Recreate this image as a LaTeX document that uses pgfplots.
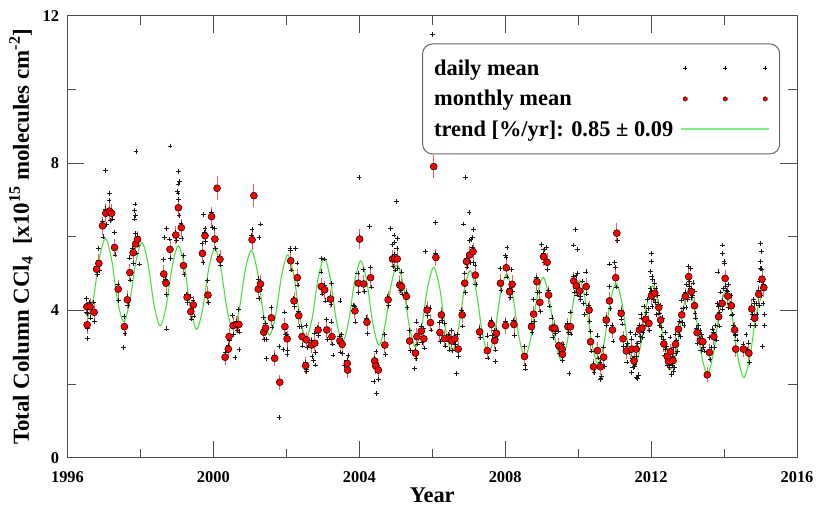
\documentclass[border=0pt]{standalone}
\usepackage{fontspec}
\setmainfont{Liberation Serif}
\usepackage{pgfplots}
\pgfplotsset{compat=1.18}
\definecolor{trendgreen}{RGB}{70,225,60}
\definecolor{legendgreen}{RGB}{125,238,125}
\definecolor{errred}{RGB}{255,90,90}
\begin{document}
\begin{tikzpicture}
\begin{axis}[
 scale only axis, width=729.5bp, height=441.7bp,
 xmin=1996, xmax=2016, ymin=0, ymax=12,
 xtick={1996,2000,2004,2008,2012,2016}, ytick={0,4,8,12},
 minor x tick num=1, minor y tick num=1,
 tick align=inside, tick pos=both,
 major tick length=17bp, minor tick length=9bp,
 tick style={black!70, line width=1bp},
 axis line style={black!70, line width=1bp},
 /pgf/number format/assume math mode=true,
 /pgf/number format/1000 sep={},
 ticklabel style={font=\fontsize{16.5}{18}\selectfont\bfseries},
 xticklabel style={yshift=-10bp},
 yticklabel style={xshift=-5bp},
 xlabel={Year},
 ylabel={Total Column CCl\textsubscript{4}\ \ [x10\textsuperscript{15} molecules cm\textsuperscript{-2}]},
 label style={font=\fontsize{22.5}{26}\selectfont\bfseries},
 xlabel style={at={(axis description cs:0.5,-0.085)}, anchor=center, inner sep=0bp},
 ylabel style={at={(axis description cs:-0.0637,0.5)}, anchor=center, inner sep=0bp, font=\fontsize{23}{26}\selectfont\bfseries},
 legend plot pos=right, legend cell align=left,
 legend style={at={(0.977,0.938)}, anchor=north east,
   font=\fontsize{22.5}{26}\selectfont\bfseries,
   draw=black!60, rounded corners=10bp, line width=1bp,
   inner xsep=9.5bp, inner ysep=14bp, row sep=9.5bp},
]
% daily means
\addplot[only marks, mark=+, mark size=2.4bp, mark options={black!90, line width=0.6bp},
 legend image code/.code={\path[draw=none, fill=none] (0bp,0bp) -- (88bp,0bp);
   \draw[black, line width=0.5bp, solid] (2bp,0bp) -- (6bp,0bp) (4bp,-2bp) -- (4bp,2bp)
     (42bp,0bp) -- (46bp,0bp) (44bp,-2bp) -- (44bp,2bp)
     (82bp,0bp) -- (86bp,0bp) (84bp,-2bp) -- (84bp,2bp);}]
coordinates {
(1996.52,4.32)(1996.545,3.92)(1996.53,3.96)(1996.555,3.51)(1996.61,4.22)(1996.635,3.80)(1996.72,4.23)(1996.745,3.70)(1996.79,5.20)(1996.815,4.97)(1996.85,5.68)(1996.875,5.08)(1996.95,6.42)(1996.975,6.00)(1997.04,6.76)(1997.065,6.34)(1997.14,6.98)(1997.165,6.45)(1997.20,6.72)(1997.225,6.49)(1997.28,6.11)(1997.305,5.51)(1997.38,4.70)(1997.405,4.28)(1997.55,3.84)(1997.575,3.38)(1997.63,4.37)(1997.655,4.14)(1997.70,5.43)(1997.725,4.83)(1997.79,5.69)(1997.815,5.27)(1997.86,6.09)(1997.885,5.56)(1997.91,6.01)(1997.935,5.78)
(1998.63,5.39)(1998.655,4.79)(1998.69,4.86)(1998.715,4.44)(1998.80,5.94)(1998.825,5.41)(1998.96,6.13)(1998.985,5.90)(1999.03,7.19)(1999.055,6.59)(1999.11,6.37)(1999.135,5.95)(1999.17,5.50)(1999.195,4.97)(1999.27,4.44)(1999.295,4.21)(1999.37,4.37)(1999.395,3.77)(1999.44,4.27)(1999.465,3.85)(1999.69,5.83)(1999.715,5.30)(1999.76,6.11)(1999.785,5.88)(1999.84,4.82)(1999.865,4.22)(1999.94,6.67)(1999.965,6.25)(2000.03,6.22)(2000.055,5.69)(2000.17,5.47)(2000.195,5.24)(2000.33,2.85)(2000.40,3.05)(2000.44,3.20)(2000.53,3.87)(2000.555,3.34)(2000.63,3.70)(2000.655,3.47)(2000.69,4.02)(2000.715,3.42)
(2001.05,6.04)(2001.22,4.86)(2001.245,4.33)(2001.28,4.80)(2001.305,4.57)(2001.37,3.81)(2001.395,3.21)(2001.42,3.64)(2001.445,3.22)(2001.58,4.08)(2001.605,3.55)(2001.67,2.78)(2001.95,3.96)(2001.975,3.36)(2002.01,3.35)(2002.035,2.93)(2002.11,5.63)(2002.135,5.10)(2002.20,4.34)(2002.225,4.11)(2002.29,5.29)(2002.315,4.69)(2002.33,3.98)(2002.355,3.56)(2002.42,3.57)(2002.445,3.04)(2002.52,2.58)(2002.545,2.35)(2002.54,3.60)(2002.565,3.00)(2002.68,3.18)(2002.705,2.76)(2002.77,3.39)(2002.795,2.86)(2002.86,3.55)(2002.885,3.32)(2002.95,5.05)(2002.975,4.45)
(2003.04,4.68)(2003.065,4.26)(2003.10,3.75)(2003.125,3.22)(2003.20,4.39)(2003.225,4.16)(2003.24,3.69)(2003.265,3.09)(2003.46,3.29)(2003.485,2.87)(2003.52,3.36)(2003.545,2.83)(2003.66,2.64)(2003.685,2.41)(2003.69,2.78)(2003.87,4.11)(2003.895,3.69)(2003.96,5.02)(2003.985,4.49)(2004.00,6.02)(2004.11,5.12)(2004.135,4.52)(2004.20,3.80)(2004.225,3.38)(2004.30,5.17)(2004.325,4.64)(2004.41,2.71)(2004.435,2.48)(2004.46,2.89)(2004.51,2.50)(2004.69,3.34)(2004.715,2.81)(2004.78,4.37)(2004.805,4.14)(2004.90,5.80)(2004.925,5.20)(2004.96,5.52)(2004.985,5.10)
(2005.03,5.68)(2005.055,5.15)(2005.10,4.77)(2005.125,4.54)(2005.15,5.05)(2005.175,4.45)(2005.28,4.50)(2005.305,4.08)(2005.37,3.45)(2005.395,2.92)(2005.53,2.92)(2005.555,2.69)(2005.57,3.69)(2005.595,3.09)(2005.69,3.56)(2005.715,3.14)(2005.76,3.51)(2005.785,2.98)(2005.85,4.09)(2005.875,3.86)(2005.94,4.07)(2005.965,3.47)(2006.09,5.56)(2006.20,3.68)(2006.225,3.15)(2006.24,3.96)(2006.265,3.73)(2006.33,3.64)(2006.355,3.04)(2006.45,3.35)(2006.475,2.93)(2006.53,3.45)(2006.555,2.92)(2006.61,3.31)(2006.635,3.08)(2006.70,3.35)(2006.725,2.75)(2006.81,4.00)(2006.835,3.58)(2006.88,5.02)(2006.905,4.49)(2006.93,5.41)(2006.955,5.18)
(2007.02,5.91)(2007.045,5.31)(2007.11,5.72)(2007.135,5.30)(2007.17,5.24)(2007.195,4.71)(2007.29,3.50)(2007.315,3.27)(2007.50,3.31)(2007.525,2.71)(2007.61,3.74)(2007.635,3.32)(2007.70,3.46)(2007.725,2.93)(2007.75,3.46)(2007.775,3.23)(2007.86,5.14)(2007.885,4.54)(2008.00,3.71)(2008.02,5.44)(2008.045,4.91)(2008.11,4.59)(2008.135,4.36)(2008.18,5.11)(2008.205,4.51)(2008.23,3.74)(2008.255,3.32)(2008.52,3.03)(2008.545,2.50)(2008.71,3.64)(2008.735,3.41)(2008.77,4.30)(2008.795,3.70)(2008.86,4.90)(2008.885,4.48)(2008.94,4.50)(2008.965,3.97)
(2009.04,5.54)(2009.065,5.31)(2009.14,5.71)(2009.165,5.11)(2009.18,4.54)(2009.205,4.12)(2009.28,3.80)(2009.305,3.27)(2009.35,3.60)(2009.375,3.37)(2009.46,3.44)(2009.485,2.84)(2009.55,3.07)(2009.575,2.65)(2009.58,3.09)(2009.71,3.64)(2009.735,3.41)(2009.78,3.96)(2009.805,3.36)(2009.87,4.92)(2009.895,4.50)(2009.94,4.95)(2009.965,4.42)(2010.03,4.61)(2010.055,4.38)(2010.21,5.05)(2010.235,4.45)(2010.29,4.13)(2010.315,3.71)(2010.33,3.43)(2010.355,2.90)(2010.41,2.55)(2010.435,2.32)(2010.52,3.31)(2010.545,2.71)(2010.60,2.59)(2010.625,2.17)(2010.69,3.01)(2010.715,2.48)(2010.76,3.82)(2010.785,3.59)(2010.85,4.66)(2010.875,4.06)(2010.93,3.59)(2010.955,3.17)
(2011.02,5.17)(2011.045,4.64)(2011.07,5.90)(2011.17,4.00)(2011.195,3.77)(2011.22,3.63)(2011.245,3.03)(2011.31,3.02)(2011.335,2.60)(2011.46,3.23)(2011.485,2.70)(2011.52,2.71)(2011.545,2.48)(2011.58,3.35)(2011.605,2.75)(2011.67,3.59)(2011.695,3.17)(2011.74,3.80)(2011.765,3.27)(2011.84,3.84)(2011.865,3.61)(2011.93,4.05)(2011.955,3.45)
(2012.00,4.52)(2012.025,4.10)(2012.09,4.75)(2012.115,4.22)(2012.20,4.16)(2012.225,3.93)(2012.25,4.14)(2012.275,3.54)(2012.34,3.21)(2012.365,2.79)(2012.43,3.03)(2012.455,2.50)(2012.47,2.69)(2012.495,2.46)(2012.52,3.28)(2012.545,2.68)(2012.59,2.76)(2012.615,2.34)(2012.66,3.36)(2012.685,2.83)(2012.74,3.57)(2012.765,3.34)(2012.83,4.28)(2012.855,3.68)(2012.93,4.50)(2012.955,4.08)
(2013.02,5.20)(2013.045,4.67)(2013.09,4.59)(2013.115,4.36)(2013.18,4.53)(2013.205,3.93)(2013.25,3.52)(2013.275,3.10)(2013.34,3.45)(2013.365,2.92)(2013.41,3.23)(2013.435,3.00)(2013.59,3.26)(2013.615,2.66)(2013.71,3.41)(2013.735,2.99)(2013.84,4.11)(2013.865,3.58)(2013.94,4.27)(2013.965,4.04)
(2014.02,5.27)(2014.045,4.67)(2014.09,4.51)(2014.115,4.09)(2014.19,4.41)(2014.215,3.88)(2014.28,3.55)(2014.305,3.32)(2014.31,3.35)(2014.52,3.07)(2014.67,3.12)(2014.695,2.59)(2014.75,4.12)(2014.775,3.89)(2014.83,4.19)(2014.855,3.59)(2014.94,4.56)(2014.965,4.14)(2015.03,5.13)(2015.055,4.60)(2015.08,4.70)(2015.105,3.90)
(1997.05,7.81)(1997.15,7.18)(1997.88,8.32)(1997.85,6.89)(1997.84,6.71)(1997.83,6.49)(1997.87,6.58)(1997.97,5.26)(1998.81,8.47)(1999.05,7.77)(1999.07,7.50)(1999.03,7.44)(1999.02,7.23)(1999.04,7.02)(1998.72,6.23)(1998.65,5.99)(1999.72,6.60)(1999.77,6.23)(2001.06,6.21)(2001.29,6.35)(2001.25,5.99)(2002.10,5.69)(2002.25,5.69)(2003.99,7.62)(2004.27,6.28)(2004.86,6.23)(2004.95,6.05)(2005.04,5.96)(2005.02,6.96)(2004.97,5.84)(2006.00,11.5)(2006.91,7.61)(2007.01,6.67)(2006.86,6.35)(2007.12,6.21)(2007.06,5.93)(2007.10,5.99)(2005.82,5.60)(2006.09,6.39)(2008.05,5.72)(2008.00,5.50)(2009.93,6.21)(2009.88,5.78)(2009.99,5.66)(2008.99,5.80)(2009.06,5.66)(2011.00,5.31)(2010.86,5.26)(2012.00,5.55)(2012.01,5.33)(2011.99,5.06)(2012.02,4.92)(2013.95,5.78)(2013.96,5.55)(2014.00,5.33)(2013.83,5.05)(2013.07,5.15)(2015.00,5.83)(2015.02,5.60)(2015.00,5.33)(2014.99,5.15)(2015.06,3.02)
(1996.55,3.24)(1997.53,3.00)(1998.72,3.50)(2000.59,2.73)(2000.70,2.95)(2001.80,1.10)(2001.46,2.70)(2001.80,3.02)(2001.91,2.95)(2002.02,2.81)(2004.47,1.75)(2004.40,2.07)(2004.53,2.13)(2002.55,2.40)(2002.75,2.65)(2002.80,2.52)(2003.28,2.79)(2003.60,2.50)(2005.52,2.43)(2006.66,2.29)(2007.73,2.61)(2008.55,2.41)(2009.75,2.29)(2010.62,2.13)(2010.63,2.22)(2011.59,2.18)(2011.47,2.31)(2012.55,2.27)(2011.62,2.15)(2011.65,2.25)
(2002.96,5.42)(2003.05,5.40)(2003.24,4.74)(2003.47,4.26)(2003.83,4.15)(2009.98,5.00)(2010.07,4.30)(2010.12,4.80)(2010.15,4.20)(2010.18,3.90)
(2011.35,3.10)(2011.40,2.85)(2011.44,3.40)(2011.50,2.45)(2011.56,2.55)(2011.62,3.10)(2011.70,3.30)(2011.72,3.90)(2011.78,3.40)(2011.80,4.10)(2011.88,3.95)(2011.90,4.30)(2011.97,4.60)(2012.04,4.85)(2012.06,4.30)(2012.13,4.60)(2012.15,3.90)(2012.18,4.40)(2012.23,3.60)(2012.29,3.30)(2012.31,3.80)(2012.38,2.95)(2012.40,3.40)(2012.50,2.55)(2012.57,2.50)(2012.62,3.00)(2012.64,2.45)(2012.70,3.20)(2012.72,2.90)(2012.78,3.70)(2012.80,3.30)(2012.87,4.05)(2012.90,3.60)(2012.97,4.70)(2013.00,4.30)(2013.06,4.80)(2013.13,4.40)(2013.15,4.75)(2013.22,3.80)(2013.30,3.60)(2013.32,3.25)(2013.38,3.35)(2013.45,2.90)(2013.65,3.00)(2013.68,3.50)(2013.76,3.60)(2013.79,3.20)(2013.81,4.20)(2013.88,3.95)(2013.90,4.50)(2013.98,4.60)(2014.06,4.55)(2014.13,4.70)(2014.16,4.20)(2014.23,3.90)(2014.25,3.60)(2014.35,3.20)(2014.60,3.35)(2014.64,2.95)(2014.72,3.60)(2014.79,3.75)(2014.81,4.30)(2014.88,4.20)(2014.90,3.90)(2014.98,4.80)(2015.01,4.40)(2015.07,4.20)(2015.11,3.60)
};
\addlegendentry{daily mean}
% monthly means
\addplot[only marks, mark=*, mark size=3.5bp, mark options={fill=red, draw=black, line width=0.5bp},
 legend image code/.code={\path[draw=none, fill=none] (0bp,0bp) -- (88bp,0bp);
   \filldraw[fill=red, draw=black, line width=0.4bp, solid] (4bp,0bp) circle (2.2bp) (44bp,0bp) circle (2.2bp) (84bp,0bp) circle (2.2bp);},
 error bars/.cd, y dir=both, y explicit,
 error bar style={errred, line width=0.9bp},
 error mark options={errred, line width=0.9bp, mark size=4.5bp}]
coordinates {
(1996.53,4.10) +- (0,0.12) (1996.54,3.61) +- (0,0.12) (1996.62,4.10) +- (0,0.12) (1996.73,3.95) +- (0,0.12)
(1996.80,5.12) +- (0,0.12) (1996.86,5.28) +- (0,0.12) (1996.96,6.30) +- (0,0.12) (1997.05,6.64) +- (0,0.12)
(1997.15,6.70) +- (0,0.12) (1997.21,6.64) +- (0,0.12) (1997.29,5.71) +- (0,0.12) (1997.39,4.58) +- (0,0.12)
(1997.56,3.56) +- (0,0.12) (1997.64,4.29) +- (0,0.12) (1997.71,5.03) +- (0,0.12) (1997.80,5.57) +- (0,0.12)
(1997.87,5.81) +- (0,0.12) (1997.92,5.93) +- (0,0.12) (1998.64,4.99) +- (0,0.12) (1998.70,4.74) +- (0,0.12)
(1998.81,5.66) +- (0,0.12) (1998.97,6.05) +- (0,0.12) (1999.04,6.79) +- (0,0.12) (1999.12,6.25) +- (0,0.12)
(1999.18,5.22) +- (0,0.12) (1999.28,4.36) +- (0,0.12) (1999.38,3.97) +- (0,0.12) (1999.45,4.15) +- (0,0.12)
(1999.70,5.55) +- (0,0.12) (1999.77,6.03) +- (0,0.12) (1999.85,4.42) +- (0,0.12) (1999.95,6.55) +- (0,0.15)
(2000.04,5.94) +- (0,0.12) (2000.10,7.32) +- (0,0.2) (2000.18,5.39) +- (0,0.12) (2000.32,2.73) +- (0,0.1)
(2000.41,2.95) +- (0,0.1) (2000.43,3.29) +- (0,0.1) (2000.54,3.59) +- (0,0.1) (2000.64,3.62) +- (0,0.1)
(2000.70,3.62) +- (0,0.1) (2001.06,5.92) +- (0,0.15) (2001.11,7.12) +- (0,0.2) (2001.23,4.58) +- (0,0.12)
(2001.29,4.72) +- (0,0.12) (2001.38,3.41) +- (0,0.1) (2001.43,3.52) +- (0,0.1) (2001.59,3.80) +- (0,0.1)
(2001.68,2.70) +- (0,0.1) (2001.82,2.05) +- (0,0.08) (2001.96,3.56) +- (0,0.1) (2002.02,3.23) +- (0,0.1)
(2002.12,5.35) +- (0,0.12) (2002.21,4.26) +- (0,0.12) (2002.30,4.89) +- (0,0.12) (2002.34,3.86) +- (0,0.1)
(2002.43,3.29) +- (0,0.1) (2002.53,2.50) +- (0,0.1) (2002.55,3.20) +- (0,0.1) (2002.69,3.06) +- (0,0.1)
(2002.78,3.11) +- (0,0.1) (2002.87,3.47) +- (0,0.1) (2002.96,4.65) +- (0,0.12) (2003.05,4.56) +- (0,0.12)
(2003.11,3.47) +- (0,0.1) (2003.21,4.31) +- (0,0.12) (2003.25,3.29) +- (0,0.1) (2003.47,3.17) +- (0,0.1)
(2003.53,3.08) +- (0,0.1) (2003.67,2.56) +- (0,0.1) (2003.68,2.38) +- (0,0.1) (2003.88,3.99) +- (0,0.1)
(2003.97,4.74) +- (0,0.12) (2004.01,5.94) +- (0,0.15) (2004.12,4.72) +- (0,0.12) (2004.21,3.68) +- (0,0.1)
(2004.31,4.89) +- (0,0.12) (2004.42,2.63) +- (0,0.1) (2004.45,2.49) +- (0,0.1) (2004.52,2.38) +- (0,0.1)
(2004.70,3.06) +- (0,0.1) (2004.79,4.29) +- (0,0.12) (2004.91,5.40) +- (0,0.12) (2004.97,5.40) +- (0,0.12)
(2005.04,5.40) +- (0,0.12) (2005.11,4.69) +- (0,0.12) (2005.16,4.65) +- (0,0.12) (2005.29,4.38) +- (0,0.12)
(2005.38,3.17) +- (0,0.1) (2005.54,2.84) +- (0,0.1) (2005.58,3.29) +- (0,0.1) (2005.70,3.44) +- (0,0.1)
(2005.77,3.23) +- (0,0.1) (2005.86,4.01) +- (0,0.12) (2005.95,3.67) +- (0,0.1) (2006.04,7.91) +- (0,0.2)
(2006.10,5.44) +- (0,0.12) (2006.21,3.40) +- (0,0.1) (2006.25,3.88) +- (0,0.1) (2006.34,3.24) +- (0,0.1)
(2006.46,3.23) +- (0,0.1) (2006.54,3.17) +- (0,0.1) (2006.62,3.23) +- (0,0.1) (2006.71,2.95) +- (0,0.1)
(2006.82,3.88) +- (0,0.1) (2006.89,4.74) +- (0,0.12) (2006.94,5.33) +- (0,0.12) (2007.03,5.51) +- (0,0.12)
(2007.12,5.60) +- (0,0.12) (2007.18,4.96) +- (0,0.12) (2007.30,3.42) +- (0,0.1) (2007.51,2.91) +- (0,0.1)
(2007.62,3.62) +- (0,0.1) (2007.71,3.18) +- (0,0.1) (2007.76,3.38) +- (0,0.1) (2007.87,4.74) +- (0,0.12)
(2008.01,3.59) +- (0,0.1) (2008.03,5.16) +- (0,0.12) (2008.12,4.51) +- (0,0.12) (2008.19,4.71) +- (0,0.12)
(2008.24,3.62) +- (0,0.1) (2008.53,2.75) +- (0,0.1) (2008.72,3.56) +- (0,0.1) (2008.78,3.90) +- (0,0.1)
(2008.87,4.78) +- (0,0.12) (2008.95,4.22) +- (0,0.12) (2009.05,5.46) +- (0,0.12) (2009.15,5.31) +- (0,0.12)
(2009.19,4.42) +- (0,0.12) (2009.29,3.52) +- (0,0.1) (2009.36,3.52) +- (0,0.1) (2009.47,3.04) +- (0,0.1)
(2009.56,2.95) +- (0,0.1) (2009.57,2.81) +- (0,0.1) (2009.72,3.56) +- (0,0.1) (2009.79,3.56) +- (0,0.1)
(2009.88,4.80) +- (0,0.12) (2009.95,4.67) +- (0,0.12) (2010.04,4.53) +- (0,0.12) (2010.22,4.65) +- (0,0.12)
(2010.30,4.01) +- (0,0.12) (2010.34,3.15) +- (0,0.1) (2010.42,2.47) +- (0,0.1) (2010.53,2.91) +- (0,0.1)
(2010.61,2.47) +- (0,0.1) (2010.70,2.73) +- (0,0.1) (2010.77,3.74) +- (0,0.1) (2010.86,4.26) +- (0,0.12)
(2010.94,3.47) +- (0,0.1) (2011.03,4.89) +- (0,0.12) (2011.06,6.10) +- (0,0.15) (2011.18,3.92) +- (0,0.1)
(2011.23,3.23) +- (0,0.1) (2011.32,2.90) +- (0,0.1) (2011.47,2.95) +- (0,0.1) (2011.53,2.63) +- (0,0.1)
(2011.59,2.95) +- (0,0.1) (2011.68,3.47) +- (0,0.1) (2011.75,3.52) +- (0,0.1) (2011.85,3.76) +- (0,0.1)
(2011.94,3.65) +- (0,0.1) (2012.01,4.40) +- (0,0.12) (2012.10,4.47) +- (0,0.12) (2012.21,4.08) +- (0,0.12)
(2012.26,3.74) +- (0,0.1) (2012.35,3.09) +- (0,0.1) (2012.44,2.75) +- (0,0.1) (2012.48,2.61) +- (0,0.1)
(2012.53,2.88) +- (0,0.1) (2012.60,2.64) +- (0,0.1) (2012.67,3.08) +- (0,0.1) (2012.75,3.49) +- (0,0.1)
(2012.84,3.88) +- (0,0.1) (2012.94,4.38) +- (0,0.12) (2013.03,4.92) +- (0,0.12) (2013.10,4.51) +- (0,0.12)
(2013.19,4.13) +- (0,0.12) (2013.26,3.40) +- (0,0.1) (2013.35,3.17) +- (0,0.1) (2013.42,3.15) +- (0,0.1)
(2013.54,2.25) +- (0,0.08) (2013.60,2.86) +- (0,0.1) (2013.72,3.29) +- (0,0.1) (2013.85,3.83) +- (0,0.1)
(2013.95,4.19) +- (0,0.12) (2014.03,4.87) +- (0,0.12) (2014.10,4.39) +- (0,0.12) (2014.20,4.13) +- (0,0.12)
(2014.29,3.47) +- (0,0.1) (2014.32,2.95) +- (0,0.1) (2014.53,2.95) +- (0,0.1) (2014.68,2.84) +- (0,0.1)
(2014.76,4.04) +- (0,0.12) (2014.84,3.79) +- (0,0.1) (2014.95,4.44) +- (0,0.12) (2015.04,4.85) +- (0,0.12)
(2015.09,4.62) +- (0,0.12)
};
\addlegendentry{monthly mean}
% trend fit
\addplot[trendgreen, line width=1.1bp, smooth, no markers,
 legend image code/.code={\draw[legendgreen, line width=2bp, solid] (0bp,0bp) -- (88bp,0bp);}]
coordinates {
(1996.54,3.76)(1996.707,4.31)(1996.873,5.41)(1997.04,5.96)(1997.207,5.395)(1997.373,4.265)
(1997.54,3.70)(1997.707,4.238)(1997.873,5.313)(1998.04,5.85)(1998.207,5.283)(1998.373,4.148)
(1998.54,3.58)(1998.707,4.125)(1998.873,5.215)(1999.04,5.76)(1999.207,5.193)(1999.373,4.058)
(1999.54,3.49)(1999.707,4.04)(1999.873,5.14)(2000.04,5.69)(2000.207,5.138)(2000.373,4.033)
(2000.54,3.48)(2000.707,4.018)(2000.873,5.093)(2001.04,5.63)(2001.207,5.055)(2001.373,3.905)
(2001.54,3.33)(2001.707,3.875)(2001.873,4.965)(2002.04,5.51)(2002.207,4.943)(2002.373,3.808)
(2002.54,3.24)(2002.707,3.785)(2002.873,4.875)(2003.04,5.42)(2003.207,4.853)(2003.373,3.718)
(2003.54,3.15)(2003.707,3.70)(2003.873,4.80)(2004.04,5.35)(2004.207,4.778)(2004.373,3.633)
(2004.54,3.06)(2004.707,3.605)(2004.873,4.695)(2005.04,5.24)(2005.207,4.68)(2005.373,3.56)
(2005.54,3.00)(2005.707,3.543)(2005.873,4.628)(2006.04,5.17)(2006.207,4.598)(2006.373,3.453)
(2006.54,2.88)(2006.707,3.43)(2006.873,4.53)(2007.04,5.08)(2007.207,4.515)(2007.373,3.385)
(2007.54,2.82)(2007.707,3.363)(2007.873,4.448)(2008.04,4.99)(2008.207,4.428)(2008.373,3.303)
(2008.54,2.74)(2008.707,3.28)(2008.873,4.36)(2009.04,4.90)(2009.207,4.335)(2009.373,3.205)
(2009.54,2.64)(2009.707,3.183)(2009.873,4.268)(2010.04,4.81)(2010.207,4.245)(2010.373,3.115)
(2010.54,2.55)(2010.707,3.098)(2010.873,4.193)(2011.04,4.74)(2011.207,4.173)(2011.373,3.038)
(2011.54,2.47)(2011.707,3.02)(2011.873,4.12)(2012.04,4.67)(2012.207,4.103)(2012.373,2.968)
(2012.54,2.40)(2012.707,2.94)(2012.873,4.02)(2013.04,4.56)(2013.207,3.988)(2013.373,2.843)
(2013.54,2.27)(2013.707,2.83)(2013.873,3.95)(2014.04,4.51)(2014.207,3.928)(2014.373,2.763)
(2014.54,2.18)(2014.707,2.735)(2014.873,3.845)(2015.02,4.38)
};
\addlegendentry{trend [\%/yr]: 0.85 ± 0.09\rule{5bp}{0bp}}
\end{axis}
\pgfresetboundingbox
\path[use as bounding box] (-67.5bp,-49.3bp) rectangle (749.5bp,457.7bp);
\end{tikzpicture}
\end{document}
